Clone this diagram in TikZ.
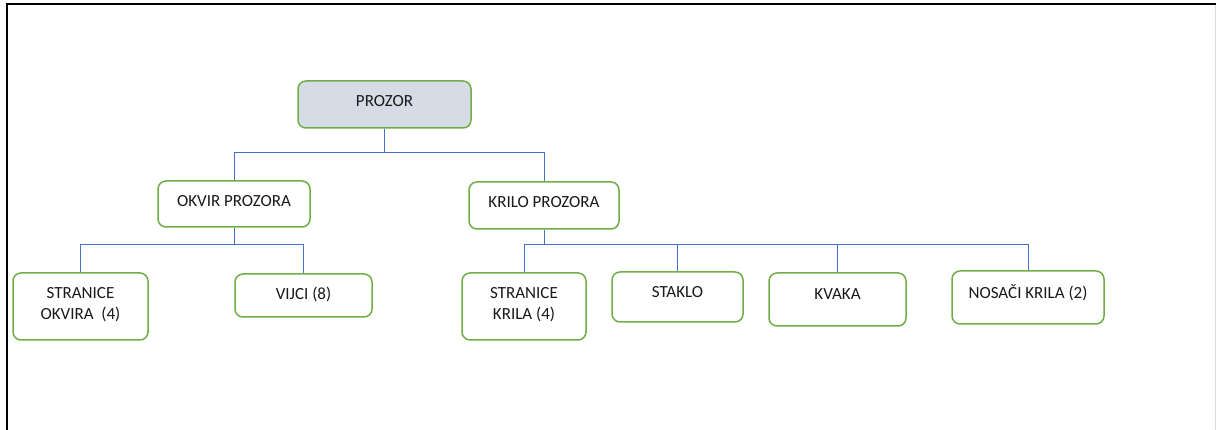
\documentclass[tikz,border=0pt]{standalone}
\usepackage{fontspec}
\setmainfont{Carlito}
\definecolor{boxgreen}{HTML}{70AD47}
\definecolor{boxfill}{HTML}{D6DCE5}
\definecolor{connblue}{HTML}{4472C4}
\tikzset{
  box/.style={draw=boxgreen, line width=1.5pt, rounded corners=8pt, fill=white, inner sep=0pt},
  rootbox/.style={box, fill=boxfill},
  conn/.style={draw=connblue, line width=1pt},
  lbl/.style={font=\fontsize{17}{21}\selectfont, align=center, inner sep=0pt, text=black!90}
}
\begin{document}
\begin{tikzpicture}[x=1pt,y=-1pt]
\useasboundingbox (0,0) rectangle (1216,430);
% frame
\draw[line width=2pt, black] (7,431) -- (7,4) -- (1217,4);
\draw[line width=0.8pt, black!15] (1215,5) -- (1215,430);
% boxes
\node[rootbox, minimum width=173pt, minimum height=47pt,
  label={[lbl, name=prozort, yshift=3pt]center:PROZOR}] (prozor) at (384.5,104.5) {};
\node[box, minimum width=152pt, minimum height=46pt,
  label={[lbl, name=okvirt, yshift=3pt]center:OKVIR PROZORA}] (okvir) at (234,204) {};
\node[box, minimum width=150pt, minimum height=47pt,
  label={[lbl, name=krilot, yshift=3pt]center:KRILO PROZORA}] (krilo) at (544,205.5) {};
\node[box, minimum width=135pt, minimum height=67pt,
  label={[lbl, name=sokt, yshift=2pt]center:STRANICE\\OKVIRA\ \ (4)}] (sok) at (80.5,306.5) {};
\node[box, minimum width=137pt, minimum height=43pt,
  label={[lbl, name=vijcit, yshift=1.5pt]center:VIJCI (8)}] (vijci) at (303.5,295.5) {};
\node[box, minimum width=124pt, minimum height=67pt,
  label={[lbl, name=skrt, yshift=2pt]center:STRANICE\\KRILA (4)}] (skr) at (524,306.5) {};
\node[box, minimum width=131pt, minimum height=50pt,
  label={[lbl, name=staklot, yshift=5pt]center:STAKLO}] (staklo) at (677.5,297) {};
\node[box, minimum width=137pt, minimum height=53pt,
  label={[lbl, name=kvakat, yshift=5.5pt]center:KVAKA}] (kvaka) at (837.5,299.5) {};
\node[box, minimum width=152pt, minimum height=53pt,
  label={[lbl, name=nosacit, yshift=5pt]center:NOSAČI KRILA (2)}] (nosaci) at (1028,297.5) {};
% connectors
\draw[conn] (prozor.south) -- ++(0,24) coordinate (j1);
\draw[conn] (j1) -| (okvir.north);
\draw[conn] (j1) -| (krilo.north);
\draw[conn] (okvir.south) -- ++(0,17) coordinate (j2);
\draw[conn] (j2) -| (sok.north);
\draw[conn] (j2) -| (vijci.north);
\draw[conn] (krilo.south) -- ++(0,14.5) coordinate (j3);
\draw[conn] (j3) -| (skr.north);
\draw[conn] (j3) -| (staklo.north);
\draw[conn] (j3) -| (kvaka.north);
\draw[conn] (j3) -| (nosaci.north);
\end{tikzpicture}
\end{document}
